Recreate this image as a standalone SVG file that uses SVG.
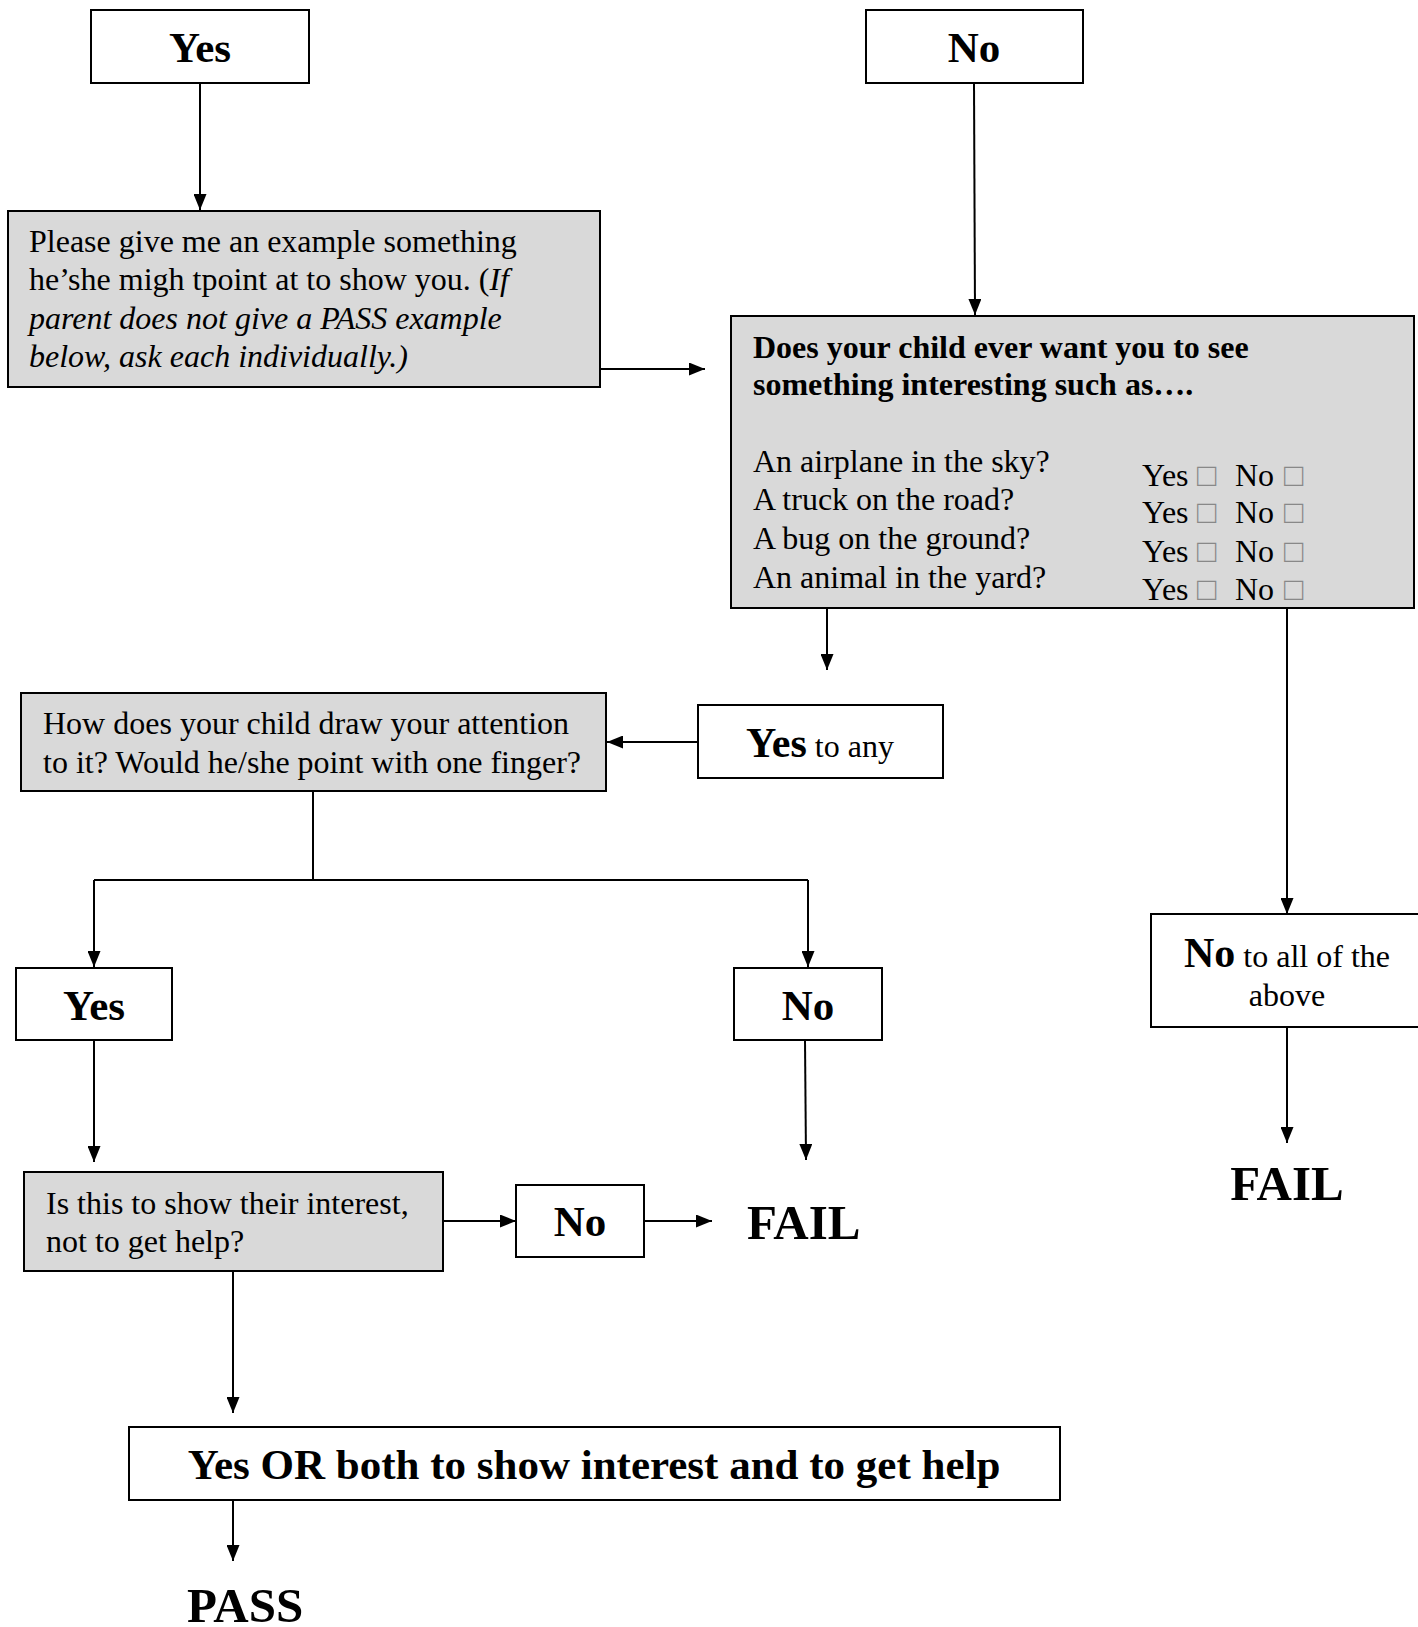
<svg xmlns="http://www.w3.org/2000/svg" width="1418" height="1627" viewBox="0 0 1418 1627">
<defs>
<marker id="ah" markerUnits="userSpaceOnUse" markerWidth="16" markerHeight="13" refX="16" refY="6.5" orient="auto">
<path d="M0,0 L16,6.5 L0,13 z" fill="#000"/>
</marker>
<style>
.box{fill:#fff;stroke:#000;stroke-width:2}
.gbox{fill:#d9d9d9;stroke:#000;stroke-width:2}
.t{font-family:"Liberation Serif","Times New Roman",serif;font-size:32px;fill:#000}
.b{font-family:"Liberation Serif","Times New Roman",serif;font-weight:bold;fill:#000}
.i{font-style:italic}
.cb{fill:#888}
.c{stroke:#000;stroke-width:2;fill:none}
.a{marker-end:url(#ah)}
</style>
</defs>
<rect width="1418" height="1627" fill="#fff"/>
<g id="connectors">
<path class="c a" d="M200,83 V210"/>
<path class="c a" d="M600,369 H705"/>
<path class="c a" d="M974,83 L975,315"/>
<path class="c a" d="M827,608 V670"/>
<path class="c a" d="M1287,608 V914"/>
<path class="c a" d="M698,742 H607"/>
<path class="c" d="M313,791 V880"/>
<path class="c" d="M94,880 H808"/>
<path class="c a" d="M94,880 V967"/>
<path class="c a" d="M808,880 V967"/>
<path class="c a" d="M94,1040 V1162"/>
<path class="c a" d="M805,1040 L806,1160"/>
<path class="c a" d="M443,1221 H516"/>
<path class="c a" d="M644,1221 H712"/>
<path class="c a" d="M1287,1027 V1143"/>
<path class="c a" d="M233,1271 V1413"/>
<path class="c a" d="M233,1500 V1561"/>
</g>
<g id="yes-top">
<rect class="box" x="91" y="10" width="218" height="73"/>
<text class="b" x="200" y="62" font-size="43" text-anchor="middle">Yes</text>
</g>
<g id="no-top">
<rect class="box" x="866" y="10" width="217" height="73"/>
<text class="b" x="974" y="62" font-size="43" text-anchor="middle">No</text>
</g>
<g id="please">
<rect class="gbox" x="8" y="211" width="592" height="176"/>
<text class="t" x="29" y="252">Please give me an example something</text>
<text class="t" x="29" y="290">he’she migh tpoint at to show you. (<tspan class="i">If</tspan></text>
<text class="t i" x="29" y="329">parent does not give a PASS example</text>
<text class="t i" x="29" y="367">below, ask each individually.)</text>
</g>
<g id="does">
<rect class="gbox" x="731" y="316" width="683" height="292"/>
<text class="b" x="753" y="358" font-size="32">Does your child ever want you to see</text>
<text class="b" x="753" y="395" font-size="32">something interesting such as….</text>
<text class="t" x="753" y="472">An airplane in the sky?</text>
<text class="t" x="753" y="510">A truck on the road?</text>
<text class="t" x="753" y="549">A bug on the ground?</text>
<text class="t" x="753" y="588">An animal in the yard?</text>
<g font-size="30">
<text class="t" x="1142" y="486" font-size="30">Yes</text><text class="t cb" x="1197" y="486" font-size="30">□</text><text class="t" x="1235" y="486" font-size="30">No</text><text class="t cb" x="1284" y="486" font-size="30">□</text>
<text class="t" x="1142" y="523" font-size="30">Yes</text><text class="t cb" x="1197" y="523" font-size="30">□</text><text class="t" x="1235" y="523" font-size="30">No</text><text class="t cb" x="1284" y="523" font-size="30">□</text>
<text class="t" x="1142" y="562" font-size="30">Yes</text><text class="t cb" x="1197" y="562" font-size="30">□</text><text class="t" x="1235" y="562" font-size="30">No</text><text class="t cb" x="1284" y="562" font-size="30">□</text>
<text class="t" x="1142" y="600" font-size="30">Yes</text><text class="t cb" x="1197" y="600" font-size="30">□</text><text class="t" x="1235" y="600" font-size="30">No</text><text class="t cb" x="1284" y="600" font-size="30">□</text>
</g>
</g>
<g id="how">
<rect class="gbox" x="21" y="693" width="585" height="98"/>
<text class="t" x="43" y="734">How does your child draw your attention</text>
<text class="t" x="43" y="773">to it? Would he/she point with one finger?</text>
</g>
<g id="yes-to-any">
<rect class="box" x="698" y="705" width="245" height="73"/>
<text class="t" x="820" y="757" text-anchor="middle"><tspan class="b" font-size="42">Yes</tspan> to any</text>
</g>
<g id="yes-mid">
<rect class="box" x="16" y="968" width="156" height="72"/>
<text class="b" x="94" y="1020" font-size="43" text-anchor="middle">Yes</text>
</g>
<g id="no-mid">
<rect class="box" x="734" y="968" width="148" height="72"/>
<text class="b" x="808" y="1020" font-size="43" text-anchor="middle">No</text>
</g>
<g id="no-all">
<rect class="box" x="1151" y="914" width="280" height="113"/>
<text class="t" x="1287" y="967" text-anchor="middle"><tspan class="b" font-size="42">No</tspan> to all of the</text>
<text class="t" x="1287" y="1006" text-anchor="middle">above</text>
</g>
<g id="fail-right">
<text class="b" x="1287" y="1200" font-size="49" text-anchor="middle">FAIL</text>
</g>
<g id="is-this">
<rect class="gbox" x="24" y="1172" width="419" height="99"/>
<text class="t" x="46" y="1214">Is this to show their interest,</text>
<text class="t" x="46" y="1252">not to get help?</text>
</g>
<g id="no-small">
<rect class="box" x="516" y="1185" width="128" height="72"/>
<text class="b" x="580" y="1236" font-size="43" text-anchor="middle">No</text>
</g>
<g id="fail-mid">
<text class="b" x="747" y="1239" font-size="49">FAIL</text>
</g>
<g id="yes-or">
<rect class="box" x="129" y="1427" width="931" height="73"/>
<text class="b" x="594" y="1479" font-size="43" text-anchor="middle">Yes OR both to show interest and to get help</text>
</g>
<g id="pass">
<text class="b" x="187" y="1622" font-size="49">PASS</text>
</g>
</svg>
